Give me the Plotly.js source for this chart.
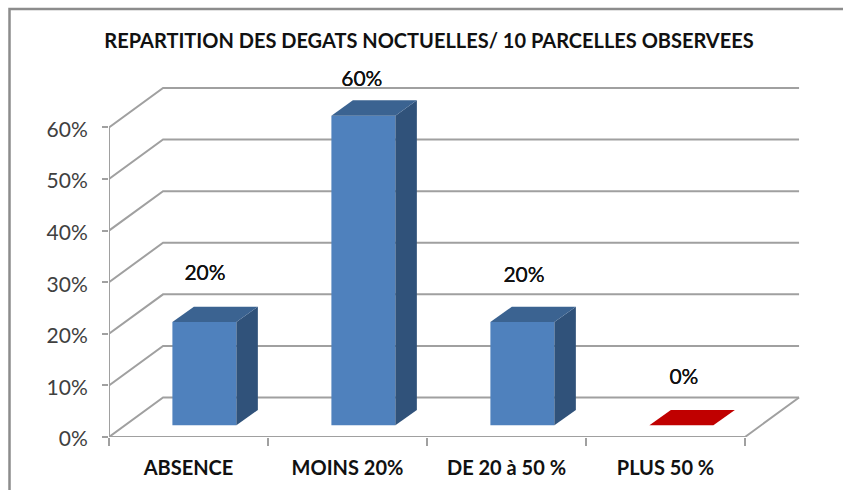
<!DOCTYPE html>
<html>
<head>
<meta charset="utf-8">
<script src="https://cdn.plot.ly/plotly-3.0.1.min.js"></script>
<style>html,body{margin:0;padding:0;background:#fff}#chart{width:843px;height:490px}</style>
</head>
<body>
<div id="chart"></div>
<script>
// Data
const categories = ["ABSENCE", "MOINS 20%", "DE 20 à 50 %", "PLUS 50 %"];
const values = [0.2, 0.6, 0.2, 0];
const valueLabels = ["20%", "60%", "20%", "0%"];
const labelX = [0.104, 1.09, 2.11, 3.116];
const labelY = [0.314, 0.69, 0.31, 0.112];
const yTicks = [0, 0.1, 0.2, 0.3, 0.4, 0.5, 0.6];
const yTickLabels = ["0%", "10%", "20%", "30%", "40%", "50%", "60%"];
const frontColors = ["#4F81BD", "#4F81BD", "#4F81BD", "#C00000"];
const sideColors = ["#30527A", "#30527A", "#30527A", "#C00000"];
const topColors = ["#3B6391", "#3B6391", "#3B6391", "#C00000"];

// 3D look, in axis units
const wallDX = 0.34, wallDY = 0.0765;      // floor depth
const barDX = 0.135, barDY = 0.0297;       // bar depth
const barShift = 0.1, barBase = 0.0227, barWidth = 0.4025;
const gridColor = "#A0A0A0";

const xMin = -0.5, xMax = 3.5;

function pathOf(pts, close) {
  return "M" + pts.map(p => p[0] + "," + p[1]).join(" L") + (close ? " Z" : "");
}
const lineStyle = {color: gridColor, width: 2};
const shapes = [];
yTicks.forEach(v => {
  shapes.push({type: "path", layer: "below", xref: "x", yref: "y", line: lineStyle,
    path: pathOf([[xMin, v], [xMin + wallDX, v + wallDY], [xMax + wallDX, v + wallDY]])});
});
shapes.push({type: "path", layer: "below", xref: "x", yref: "y", line: lineStyle,
  path: pathOf([[xMin, 0.6], [xMin, 0], [xMax, 0], [xMax + wallDX, wallDY]])});
// outer frame (top and left)
const W = 843, H = 490, mL = 109, mR = 42, mT = 65, mB = 53;
const px = x => (x - mL) / (W - mL - mR);
const py = y => (H - mB - y) / (H - mT - mB);
shapes.push({type: "path", layer: "below", xref: "paper", yref: "paper",
  line: {color: "#8C8C8C", width: 2.5},
  path: pathOf([[px(9.5), py(495)], [px(9.5), py(9)], [px(845), py(9)]])});

const traces = [];
traces.push({
  type: "bar", name: "front", x: categories.map((c, i) => i + barShift), y: values,
  base: values.map(() => barBase), width: barWidth,
  marker: {color: frontColors, line: {width: 0}}, hoverinfo: "skip", showlegend: false
});
values.forEach((v, i) => {
  const l = i + barShift - barWidth / 2, r = l + barWidth;
  const b = barBase, t = barBase + v;
  if (v > 0) {
    traces.push({type: "scatter", mode: "lines", fill: "toself", fillcolor: sideColors[i],
      x: [r, r + barDX, r + barDX, r, r], y: [b, b + barDY, t + barDY, t, b],
      line: {width: 0}, hoverinfo: "skip", showlegend: false, cliponaxis: false});
  }
  traces.push({type: "scatter", mode: "lines", fill: "toself", fillcolor: topColors[i],
    x: [l, r, r + barDX, l + barDX, l], y: [t, t, t + barDY, t + barDY, t],
    line: {width: 0}, hoverinfo: "skip", showlegend: false, cliponaxis: false});
});
traces.push({
  type: "scatter", mode: "text", x: labelX, y: labelY, text: valueLabels,
  textposition: "middle center",
  textfont: {family: "Lato, sans-serif", size: 21, color: "#111", shadow: "0 0 0.6px #111"},
  hoverinfo: "skip", showlegend: false, cliponaxis: false
});

const layout = {
  width: W, height: H, margin: {l: mL, r: mR, t: mT, b: mB, pad: 0},
  paper_bgcolor: "#fff", plot_bgcolor: "rgba(0,0,0,0)", showlegend: false,
  title: {text: "<b>REPARTITION DES DEGATS NOCTUELLES/ 10 PARCELLES OBSERVEES</b>",
    font: {family: "Lato, sans-serif", size: 20, color: "#111"},
    x: 429 / W, xanchor: "center", y: 1 - 41 / H, yanchor: "middle"},
  xaxis: {
    range: [xMin, xMin + (W - mL - mR) / 159], showgrid: false, zeroline: false, showline: false,
    tickmode: "array", tickvals: categories.map((c, i) => i), ticktext: categories.map(c => "<b>" + c + "</b>"),
    ticks: "", ticklabelstandoff: 17,
    tickfont: {family: "Lato, sans-serif", size: 20, color: "#111"},
    minor: {tickmode: "array", tickvals: [-0.5, 0.5, 1.5, 2.5, 3.5], ticks: "outside", ticklen: 8, tickwidth: 2, tickcolor: gridColor, showgrid: false}
  },
  yaxis: {
    range: [0, (H - mB - mT) / 516], showgrid: false, zeroline: false, showline: false,
    tickmode: "array", tickvals: yTicks, ticktext: yTickLabels,
    ticks: "outside", ticklen: 6, tickwidth: 2, tickcolor: gridColor, ticklabelstandoff: 10, ticklabelshift: 2,
    tickfont: {family: "Lato, sans-serif", size: 21, color: "#404040"}
  },
  shapes: shapes
};
Plotly.newPlot("chart", traces, layout, {displayModeBar: false, staticPlot: true});
</script>
</body>
</html>
